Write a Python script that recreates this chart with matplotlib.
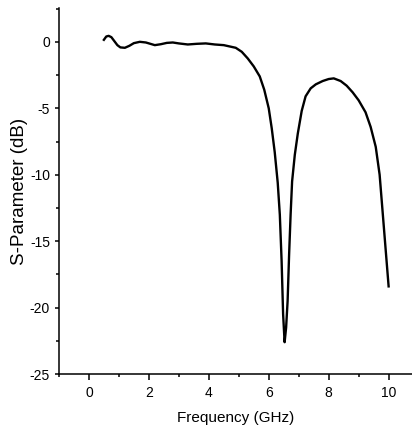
import matplotlib
matplotlib.use('Agg')
import matplotlib.pyplot as plt
from matplotlib.ticker import MultipleLocator

plt.rcParams['font.family'] = ['Liberation Sans', 'DejaVu Sans']
plt.rcParams['axes.unicode_minus'] = False

# values
freq_ghz = [0.50, 0.58, 0.66, 0.75, 0.85, 0.95, 1.05, 1.20, 1.35, 1.50,
            1.70, 1.90, 2.05, 2.20, 2.40, 2.60, 2.80, 3.00, 3.30, 3.60,
            3.90, 4.20, 4.50, 4.70, 4.90, 5.10, 5.30, 5.50, 5.70, 5.85,
            6.00, 6.10, 6.20, 6.30, 6.37, 6.43, 6.48, 6.53, 6.58, 6.63,
            6.68, 6.73, 6.78, 6.87, 6.97, 7.10, 7.23, 7.40, 7.57, 7.80,
            8.00, 8.17, 8.40, 8.60, 8.80, 9.00, 9.23, 9.40, 9.57, 9.70,
            9.80, 9.90, 10.00]
s_param_db = [0.15, 0.40, 0.45, 0.35, 0.05, -0.25, -0.42, -0.45, -0.30, -0.10,
              0.00, -0.05, -0.15, -0.25, -0.18, -0.08, -0.05, -0.12, -0.20, -0.15,
              -0.12, -0.20, -0.25, -0.35, -0.45, -0.75, -1.25, -1.85, -2.6, -3.6,
              -5.0, -6.5, -8.3, -10.6, -13.0, -16.5, -20.5, -22.6, -21.5, -19.5,
              -16.0, -13.0, -10.5, -8.5, -6.9, -5.2, -4.1, -3.5, -3.2, -2.95,
              -2.8, -2.75, -2.95, -3.3, -3.8, -4.4, -5.3, -6.4, -7.9, -10.0,
              -12.8, -15.6, -18.4]

fig = plt.figure(figsize=(4.12, 4.33), dpi=100)
ax = fig.add_axes([0.143, 0.136, 0.857, 0.846])

ax.plot(freq_ghz, s_param_db, color='black', linewidth=1.7)

ax.set_xlim(-1, 10.78)
ax.set_ylim(-25, 2.56)
ax.xaxis.set_major_locator(MultipleLocator(2))
ax.xaxis.set_minor_locator(MultipleLocator(1))
ax.yaxis.set_major_locator(MultipleLocator(5))
ax.yaxis.set_minor_locator(MultipleLocator(2.5))

ax.spines['top'].set_visible(False)
ax.spines['right'].set_visible(False)
for s in ['left', 'bottom']:
    ax.spines[s].set_linewidth(1.1)

ax.tick_params(axis='x', which='major', direction='out', length=4.5, width=1.1, labelsize=10, pad=4)
ax.tick_params(axis='y', which='major', direction='out', length=3, width=1.1, labelsize=10, pad=3.5)
ax.tick_params(which='minor', direction='out', length=2.5, width=1.1)

ax.set_xlabel('Frequency (GHz)', fontsize=11)
ax.set_ylabel('S-Parameter (dB)', fontsize=13.5)
# label positions (pixels -> axes fraction)
ax.xaxis.set_label_coords(0.5, -37 / 366)
ax.yaxis.set_label_coords(-31 / 353, 0.5)

fig.savefig('out.png', dpi=100)
